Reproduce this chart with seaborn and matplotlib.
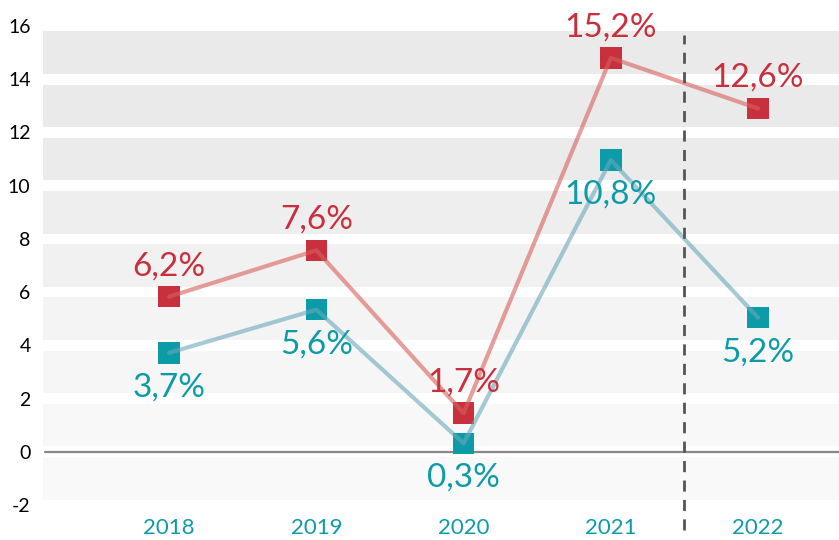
import matplotlib
matplotlib.use('Agg')
import matplotlib.pyplot as plt
import seaborn as sns
import pandas as pd

years = ['2018', '2019', '2020', '2021', '2022']
red_vals = [5.83, 7.57, 1.45, 14.8, 12.9]
teal_vals = [3.72, 5.34, 0.32, 10.96, 5.04]
red_labels = ['6,2%', '7,6%', '1,7%', '15,2%', '12,6%']
teal_labels = ['3,7%', '5,6%', '0,3%', '10,8%', '5,2%']

RED = '#C8303E'
TEAL = '#0E9BA8'

sns.set_theme(style='white')
plt.rcParams['font.family'] = ['Lato', 'DejaVu Sans']
plt.rcParams['axes.unicode_minus'] = False

df = pd.DataFrame({'year': years * 2,
                   'x': list(range(len(years))) * 2,
                   'value': red_vals + teal_vals,
                   'series': ['red'] * 5 + ['teal'] * 5})

fig = plt.figure(figsize=(8.39, 5.40), dpi=100)
ax = fig.add_axes([0.0513, 0.0648, 0.9487, 0.8871])

# background bands
band_cols = ['#eaeaea', '#eaeaea', '#ebebeb', '#eeeeee', '#f1f1f1',
             '#f4f4f4', '#f6f6f6', '#f8f8f8', '#f9f9f9']
for i, lo in enumerate(range(14, -4, -2)):
    ax.axhspan(lo + 0.2, lo + 2 - 0.2, color=band_cols[i], lw=0, zorder=0)
ax.axhline(0, color='#888888', lw=1.6, zorder=1, xmin=0.003)

sns.scatterplot(data=df, x='x', y='value', hue='series',
                palette={'red': RED, 'teal': TEAL}, marker='s', s=240,
                linewidth=0, legend=False, ax=ax, zorder=2)
sns.lineplot(data=df[df.series == 'red'], x='x', y='value', color='#D8605A',
             alpha=0.6, lw=3, ax=ax, zorder=3)
sns.lineplot(data=df[df.series == 'teal'], x='x', y='value', color='#6AA8BC',
             alpha=0.6, lw=3, ax=ax, zorder=3)

for i in range(len(years)):
    ax.annotate(red_labels[i], (i, red_vals[i]), xytext=(0, 22),
                textcoords='offset points', ha='center', va='center',
                color=RED, fontsize=24, zorder=4)
    ax.annotate(teal_labels[i], (i, teal_vals[i]), xytext=(0, -25),
                textcoords='offset points', ha='center', va='center',
                color=TEAL, fontsize=24, zorder=4)

ax.axvline(3.5, ymin=-0.052, ymax=0.981, color='#555555', lw=2,
           ls=(0, (4, 3)), clip_on=False, zorder=5)

ax.set_xlim(-0.857, 4.55)
ax.set_ylim(-2, 16)
ax.set_yticks(range(-2, 17, 2))
ax.set_xticks(range(len(years)))
ax.set_xticklabels(years)
ax.tick_params(axis='x', colors=TEAL, labelsize=16, pad=9, length=0)
ax.tick_params(axis='y', colors='black', labelsize=14, pad=9, length=0)
ax.set_xlabel('')
ax.set_ylabel('')
for s in ax.spines.values():
    s.set_visible(False)

fig.savefig('out.png', dpi=100)
